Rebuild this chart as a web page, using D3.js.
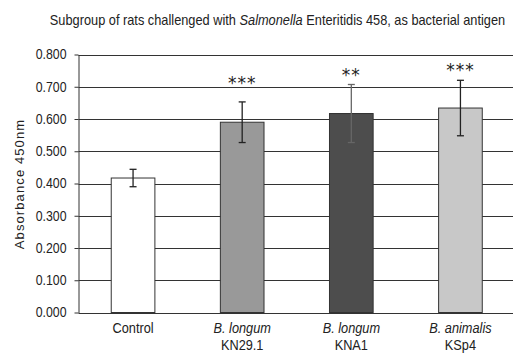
<!DOCTYPE html>
<html><head><meta charset="utf-8">
<script src="https://cdn.jsdelivr.net/npm/d3@7"></script>
<style>
body{margin:0;background:#fff;}
svg{display:block;}
text{font-family:"Liberation Sans",Arial,sans-serif;fill:#222;}
</style></head>
<body><svg id="c" width="513" height="354"></svg>
<script>
const categories = ["Control", "B. longum|KN29.1", "B. longum|KNA1", "B. animalis|KSp4"];
const means = [0.417, 0.590, 0.617, 0.634];
const errors = [0.027, 0.063, 0.090, 0.086];
const significance = ["", "***", "**", "***"];
const sigLevel = [null, 0.722, 0.745, 0.762];
const yTicks = [0, 0.1, 0.2, 0.3, 0.4, 0.5, 0.6, 0.7, 0.8];
const fills = ["#ffffff", "#999999", "#4d4d4d", "#c8c8c8"];

const svg = d3.select("#c");
const m = {l: 78.5, r: 515, t: 54.5, b: 312.5};
const x = d3.scaleBand().domain(categories).range([m.l, m.r]).paddingInner(0.6).paddingOuter(0.3);
const y = d3.scaleLinear().domain([0, 0.8]).range([m.b, m.t]);
const SX = 0.88; // condensed look

// title
const title = svg.append("text").attr("transform", `translate(277.5,25) scale(${SX},1)`)
  .attr("text-anchor", "middle").style("font-size", "13.8px");
title.append("tspan").text("Subgroup of rats challenged with ");
title.append("tspan").style("font-style", "italic").text("Salmonella");
title.append("tspan").text(" Enteritidis 458, as bacterial antigen");
const tw = title.node().getComputedTextLength();
title.attr("transform", `translate(277.5,25) scale(${455 / tw},1)`);

// gridlines
svg.append("g").selectAll("line").data(yTicks).join("line")
  .attr("x1", m.l).attr("x2", m.r)
  .attr("y1", d => Math.round(y(d)) + 0.5).attr("y2", d => Math.round(y(d)) + 0.5)
  .attr("stroke", "#333").attr("stroke-width", 1);

// y axis
const yAxis = d3.axisLeft(y).tickValues(yTicks).tickFormat(d3.format(".3f")).tickSize(4).tickSizeOuter(0);
const ga = svg.append("g").attr("transform", `translate(${m.l},0)`).call(yAxis);
ga.select(".domain").attr("stroke", "#333");
ga.selectAll(".tick line").attr("stroke", "#333");
ga.selectAll(".tick text").style("font-size", "14px").style("font-family", null).attr("fill", "#222")
  .attr("x", null).attr("transform", `translate(-12,0) scale(${SX},1)`);

svg.append("text").attr("transform", "translate(24,184) rotate(-90)").attr("text-anchor", "middle")
  .style("font-size", "13px").style("letter-spacing", "1.1px").text("Absorbance 450nm");

// bars
svg.append("g").selectAll("rect").data(categories).join("rect")
  .attr("x", d => x(d)).attr("width", x.bandwidth())
  .attr("y", (d, i) => y(means[i])).attr("height", (d, i) => y(0) - y(means[i]))
  .attr("fill", (d, i) => fills[i]).attr("stroke", "#333").attr("stroke-width", 1);

// error bars
const eg = svg.append("g").attr("stroke-width", 1.3);
categories.forEach((c, i) => {
  const cx = x(c) + x.bandwidth() / 2;
  const col = i === 2 ? "#666" : "#222";
  eg.append("line").attr("x1", cx).attr("x2", cx).attr("y1", y(means[i] + errors[i])).attr("y2", y(means[i] - errors[i])).attr("stroke", col);
  [1, -1].forEach(s => eg.append("line").attr("x1", cx - 3.5).attr("x2", cx + 3.5)
    .attr("y1", y(means[i] + s * errors[i])).attr("y2", y(means[i] + s * errors[i])).attr("stroke", col));
  if (significance[i]) {
    svg.append("text").attr("x", cx).attr("y", y(sigLevel[i]) + 9).attr("text-anchor", "middle")
      .style("font-family", "DejaVu Sans").style("font-size", "17px").style("letter-spacing", "1px").text(significance[i]);
  }
});

// x labels
categories.forEach(c => {
  const cx = x(c) + x.bandwidth() / 2;
  const parts = c.split("|");
  const t = svg.append("text").attr("transform", `translate(${cx},333) scale(${SX},1)`)
    .attr("text-anchor", "middle").style("font-size", "14.5px");
  t.append("tspan").attr("x", 0).style("font-style", parts.length > 1 ? "italic" : "normal").text(parts[0]);
  if (parts[1]) t.append("tspan").attr("x", 0).attr("dy", 17.5).text(parts[1]);
});
</script></body></html>
